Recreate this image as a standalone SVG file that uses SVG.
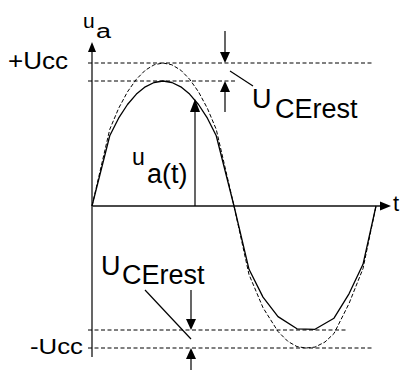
<svg xmlns="http://www.w3.org/2000/svg" width="406" height="370" viewBox="0 0 406 370">
<style>
text{font-family:"Liberation Sans",Arial,sans-serif;fill:#000}
.ax{stroke:#000;stroke-width:1.2;fill:none}
.hd{fill:#000;stroke:none}
.ref{stroke:#000;stroke-width:1;stroke-dasharray:4,2.5;fill:none}
.sol{stroke:#000;stroke-width:1.3;fill:none;stroke-linejoin:round}
.das{stroke:#000;stroke-width:1;stroke-dasharray:4,2;fill:none}
</style>
<rect width="406" height="370" fill="#fff"/>
<g id="axes">
<line class="ax" x1="92" y1="357" x2="92" y2="50"/>
<polygon class="hd" points="92,42 88,52 96,52"/>
<line x1="92" y1="206" x2="382" y2="206" stroke="#4a4a4a" stroke-width="2"/>
<polygon class="hd" points="391,206 380,201.5 380,210.5"/>
</g>
<g id="reference-lines">
<line class="ref" x1="88" y1="63" x2="373" y2="63"/>
<line class="ref" x1="88" y1="81" x2="235" y2="81"/>
<line class="ref" x1="88" y1="330" x2="347" y2="330"/>
<line class="ref" x1="88" y1="348" x2="373" y2="348"/>
</g>
<g id="curve-ideal">
<polyline class="das" points="92,206 109.75,129.4 118.6,108.4 127.5,91.8 136.4,79.2 145.3,70.2 154.1,64.8 163,63 171.9,64.8 180.8,70.2 189.6,79.2 198.5,91.8 207.4,108.4 216.25,129.4 234,206 249,274.5 263,307.7 278,331.5 288,341.5 297,346.6 306,348 315,347.1 325,342 334,333.5 349,303.6 363,268.6 376,206"/>
</g>
<g id="curve-real">
<polyline class="sol" points="92,206 109.75,135.75 118.6,118.2 127.5,104.5 136.4,94.1 145.3,86.8 154.1,82.5 163,81 171.9,82.5 180.8,86.8 189.6,94.1 198.5,104.5 207.4,118.2 216.25,135.75 234,206 249,269.3 263,297.1 278,316.6 297,328.8 315,329.3 334,318.2 349,293.8 363,264.3 376,206"/>
</g>
<g id="connectors">
<line class="ax" x1="195" y1="206" x2="195" y2="112"/>
<polygon class="hd" points="195,99 190,112 200,112"/>
<line class="ax" x1="225" y1="31" x2="225" y2="54"/>
<polygon class="hd" points="225,63 220,52 230,52"/>
<line class="ax" x1="225" y1="92" x2="225" y2="112"/>
<polygon class="hd" points="225,81 220,92 230,92"/>
<line class="ax" x1="230" y1="71" x2="253" y2="86"/>
<line class="ax" x1="191" y1="290" x2="191" y2="321"/>
<polygon class="hd" points="191,330 186,319 196,319"/>
<line class="ax" x1="191" y1="359" x2="191" y2="370"/>
<polygon class="hd" points="191,348 186,359 196,359"/>
<line class="ax" x1="145" y1="290" x2="191" y2="339"/>
</g>
<g id="labels">
<text x="83" y="28" font-size="21">u</text>
<text x="96" y="38" font-size="20" textLength="15" lengthAdjust="spacingAndGlyphs">a</text>
<text x="8" y="69" font-size="23" textLength="60" lengthAdjust="spacingAndGlyphs">+Ucc</text>
<text x="30" y="354" font-size="22" textLength="53" lengthAdjust="spacingAndGlyphs">-Ucc</text>
<text x="252" y="108" font-size="27">U</text>
<text x="275" y="118" font-size="27">CErest</text>
<text x="101" y="275" font-size="27">U</text>
<text x="122" y="284" font-size="27">CErest</text>
<text x="132" y="165" font-size="23">u</text>
<text x="147" y="183" font-size="27">a(t)</text>
<text x="393" y="211" font-size="22">t</text>
</g>
</svg>
